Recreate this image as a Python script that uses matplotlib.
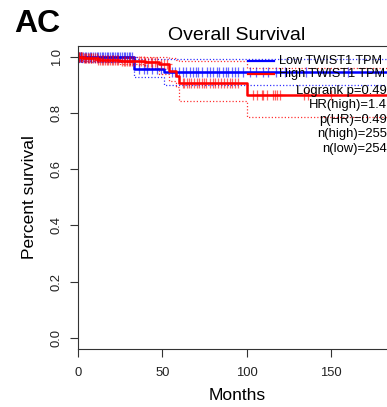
import numpy as np
import matplotlib
matplotlib.use("Agg")
import matplotlib.pyplot as plt

plt.rcParams['font.family'] = ['Liberation Sans', 'DejaVu Sans']

# ---------------- data ----------------
title = "Overall Survival"
panel = "AC"
xlabel = "Months"
ylabel = "Percent survival"
xticks = [0, 50, 100, 150]
yticks = [0.0, 0.2, 0.4, 0.6, 0.8, 1.0]
xmax = 188

# Low TWIST1 TPM (blue) step curve and confidence band
low_t = [0, 33, 51, 188]
low_s = [1.0, 0.957, 0.945, 0.945]
low_upper = [1.0, 0.993, 0.993, 0.993]
low_lower = [0.982, 0.927, 0.899, 0.899]
low_cens = [0.5, 1, 1.5, 2, 3, 4, 5, 6, 7, 8, 9, 10, 11, 12, 13, 14, 15, 16, 17,
            18, 19, 20, 21, 22, 23, 24, 25, 26, 27, 28, 29, 30, 31, 32,
            36, 39, 41, 44, 47, 49,
            55.5, 57.5, 60.1, 62.0, 64.0, 66.4, 68.3, 69.9, 71.3, 73.3, 76.3,
            78.2, 80.2, 82.2, 83.7, 85.7, 87.7, 89.1, 91.1, 93.0, 95.0, 98.0,
            102, 105.5, 109.6, 112.6, 117.3, 122.6, 135, 160]

# High TWIST1 TPM (red) step curve and confidence band
high_t = [0, 3, 12, 25, 40, 48, 54, 58, 60, 100, 188]
high_s = [1.0, 0.996, 0.99, 0.985, 0.98, 0.975, 0.95, 0.93, 0.905, 0.865, 0.865]
high_upper = [1.0, 1.0, 1.0, 1.0, 1.0, 1.0, 0.995, 0.99, 0.985, 0.96, 0.96]
high_lower = [0.99, 0.985, 0.98, 0.975, 0.96, 0.94, 0.915, 0.893, 0.844, 0.785, 0.785]
high_cens = [0.3, 0.8, 1.5, 2, 2.5, 3.5, 4, 5, 6, 6.5, 7.5, 8, 9, 10, 11, 12, 13,
             14, 15, 16, 17, 18, 19, 20, 21, 22, 23, 24, 26, 27, 28, 29, 30, 31,
             32, 33, 36, 37.5, 39, 40, 41.5, 43, 44, 45.5, 47, 49, 51, 53,
             62.5, 63, 64.4, 66, 67.3, 68.7, 70.3, 71.8, 73.3, 74.6, 76.2, 78.2,
             79.8, 81.2, 83.1, 85.1, 86.5, 88.1, 90, 91.6, 93, 95,
             103.7, 106, 109, 110, 112, 115.5, 116.7, 117.9, 119.7, 134, 136.3, 150]

legend_labels = ["Low TWIST1 TPM", "High TWIST1 TPM"]
stats_labels = ["Logrank p=0.49", "HR(high)=1.4", "p(HR)=0.49",
                "n(high)=255", "n(low)=254"]
colors = ["#0000FF", "#FF0000"]

# ---------------- figure ----------------
W, H = 387, 407
fig = plt.figure(figsize=(W / 100, H / 100), dpi=100)
ax_left, ax_right, ax_top, ax_bot = 78, 395, 45.5, 349
ax = fig.add_axes([ax_left / W, 1 - ax_bot / H,
                   (ax_right - ax_left) / W, (ax_bot - ax_top) / H])
ax.set_xlim(0, xmax)
ax.set_ylim(-0.04, 1.04)


def step_at(t, s, x):
    idx = np.searchsorted(np.asarray(t), np.asarray(x), side='right') - 1
    return np.asarray(s)[idx]


series = [(low_t, low_s, low_upper, low_lower, low_cens, colors[0]),
          (high_t, high_s, high_upper, high_lower, high_cens, colors[1])]
for t, s, up, lo, cens, c in series:
    ax.plot(t, up, drawstyle='steps-post', color=c, lw=0.9,
            linestyle=(0, (1, 1.6)), alpha=0.8)
    ax.plot(t, lo, drawstyle='steps-post', color=c, lw=0.9,
            linestyle=(0, (1, 1.6)), alpha=0.8)
for t, s, up, lo, cens, c in series:
    ax.plot(t, s, drawstyle='steps-post', color=c, lw=1.8)
    ax.plot(cens, step_at(t, s, cens), linestyle='none', marker='+',
            markersize=7.5, markeredgewidth=0.9, color=c, alpha=0.6)

# legends
for i, (lab, c) in enumerate(zip(legend_labels, colors)):
    ypx = [60.5, 73.5][i]
    yf = (ax_bot - ypx) / (ax_bot - ax_top)
    ax.plot([(248 - ax_left) / (ax_right - ax_left), (274 - ax_left) / (ax_right - ax_left)],
            [yf, yf], transform=ax.transAxes, color=c, lw=1.6, clip_on=False)
    ax.text((279 - ax_left) / (ax_right - ax_left), yf, lab, transform=ax.transAxes,
            ha='left', va='center', fontsize=9.2, color='black')
for i, lab in enumerate(stats_labels):
    ypx = 91 + 14.4 * i
    yf = (ax_bot - ypx) / (ax_bot - ax_top)
    ax.text((387 - ax_left) / (ax_right - ax_left), yf, lab, transform=ax.transAxes,
            ha='right', va='center', fontsize=9.4, color='black')

# axes styling
for side in ['left', 'top', 'bottom', 'right']:
    ax.spines[side].set_color('#333333')
    ax.spines[side].set_linewidth(0.8)
ax.set_xticks(xticks)
ax.set_yticks(yticks)
ax.set_xticklabels([str(v) for v in xticks])
ax.set_yticklabels([f"{v:.1f}" for v in yticks], rotation=90, va='center')
ax.tick_params(axis='both', direction='out', length=5.8, width=0.8,
               color='#333333', labelsize=9.4, labelcolor='#222222')
ax.tick_params(axis='x', pad=7.5)
ax.tick_params(axis='y', pad=5)

fig.text(236.5 / W, 1 - 35 / H, title, ha='center', va='center', fontsize=14)
fig.text(237 / W, 1 - 395 / H, xlabel, ha='center', va='center', fontsize=12.5)
fig.text(29 / W, 1 - 197 / H, ylabel, ha='center', va='center', fontsize=12.5,
         rotation=90)
fig.text(14 / W, 1 - 32 / H, panel, ha='left', va='baseline', fontsize=23,
         fontweight='bold')

fig.savefig("out.png", dpi=100)
